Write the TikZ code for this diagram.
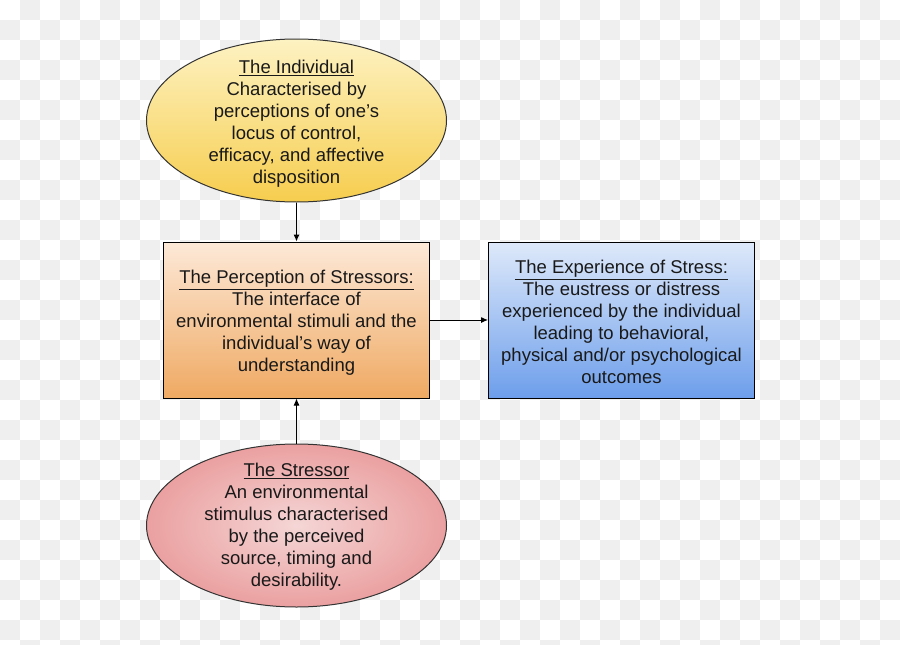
\documentclass[tikz,border=0pt]{standalone}
\usepackage{fontspec}
\setmainfont{Liberation Sans}
\usepackage{xcolor}
\usetikzlibrary{positioning}
\usetikzlibrary{shapes.geometric}
\usetikzlibrary{arrows.meta}

\definecolor{checkgray}{HTML}{EFEFEF}
\definecolor{indtop}{HTML}{FDF2C2}
\definecolor{indbot}{HTML}{F6CD4E}
\definecolor{pertop}{HTML}{FDE9D8}
\definecolor{perbot}{HTML}{EFA962}
\definecolor{exptop}{HTML}{DEE9FA}
\definecolor{expbot}{HTML}{6D9EEB}
\definecolor{strin}{HTML}{F5D6D6}
\definecolor{strout}{HTML}{E06A6A}
\pgfdeclareradialshading{stressorshade}{\pgfpoint{0bp}{0bp}}{color(0bp)=(strin); color(50bp)=(strout)}

\tikzset{
	blob/.style={ellipse, draw=black!80, line width=1pt, minimum width=300pt, minimum height=163pt, inner sep=0pt},
	stage/.style={rectangle, draw=black, line width=1pt, minimum width=266pt, minimum height=156pt, inner sep=0pt},
	words/.style={align=center, font={\fontsize{18.5pt}{22pt}\selectfont}, text=black!90},
	link/.style={-{Latex[length=7pt,width=6pt]}, line width=1pt},
}

\begin{document}
\begin{tikzpicture}[x=1pt, y=-1pt, node distance=39pt]
					% Backdrop
					\useasboundingbox (0,0) rectangle (900,645);
					\begin{scope}
					\clip (0,0) rectangle (900,645);
					\foreach \j in {0,...,32}{
						\pgfmathtruncatemacro{\off}{mod(\j+1,2)}
						\foreach \i in {0,2,...,44}
							\fill[checkgray] ({(\i+\off)*20},{\j*20}) rectangle ++(20,20);
					}
					\end{scope}

					\node[stage, top color=pertop, bottom color=perbot] at (296.5,320) (P) {};
					\node[words, yshift=-3pt] at (P) (Ptext) {\underline{The Perception of Stressors:}\\The interface of\\environmental stimuli and the\\individual's way of\\understanding};
					\node[stage, top color=exptop, bottom color=expbot, right=58pt of P] (E) {};
					\node[words, yshift=-2pt] at (E) (Etext) {\underline{The Experience of Stress:}\\The eustress or distress\\experienced by the individual\\leading to behavioral,\\physical and/or psychological\\outcomes};

					% Ellipses
					\node[blob, top color=indtop, bottom color=indbot, above=39pt of P] (I) {};
					\node[words, yshift=-3pt] at (I) (Itext) {\underline{The Individual}\\Characterised by\\perceptions of one's\\locus of control,\\efficacy, and affective\\disposition};
					\node[blob, shading=stressorshade, below=45pt of P] (S) {};
					\node[words, yshift=-1pt] at (S) (Stext) {\underline{The Stressor}\\An environmental\\stimulus characterised\\by the perceived\\source, timing and\\desirability.};

					% Connect the nodes
					\draw[link] (I) -- (P);
					\draw[link] (S) -- (P);
					\draw[link] (P) -- (E);
\end{tikzpicture}
\end{document}
